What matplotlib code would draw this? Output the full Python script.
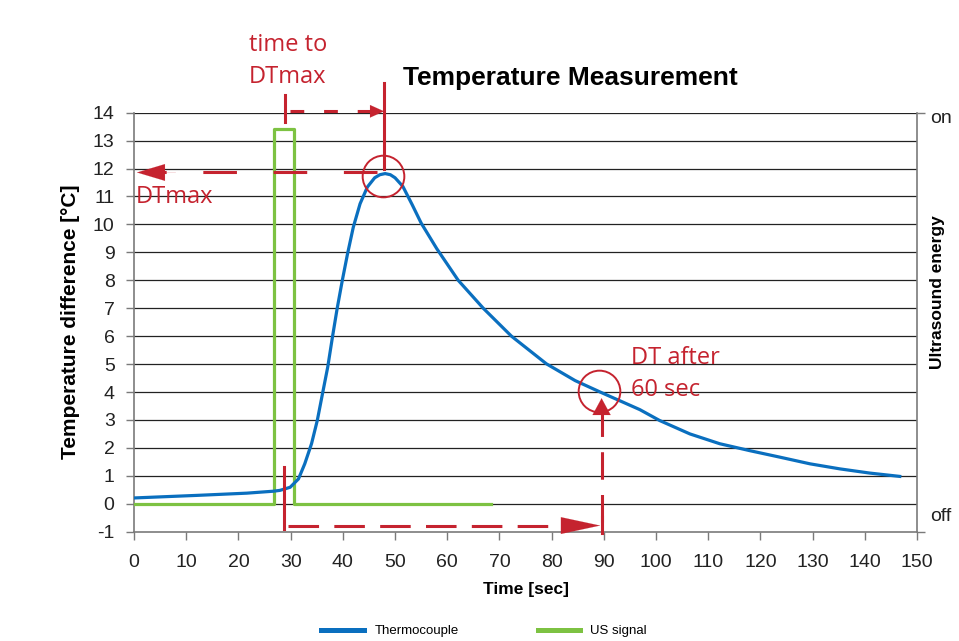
import numpy as np
import matplotlib.pyplot as plt

# thermocouple reading (temperature difference, degC) vs time (s)
tc_time = [0.2, 12.0, 21.6, 26.7, 27.95, 29.9, 31.5, 32.7, 34.0, 35.1, 36.1,
           37.1, 38.0, 38.9, 39.9, 40.9, 42.0, 43.3, 44.7, 46.1, 47.1, 48.1,
           49.1, 50.0, 51.5, 53.3, 55.0, 58.0, 62.1, 66.9, 72.3, 79.0, 84.5,
           89.3, 96.9, 100.7, 106.5, 112.2, 118.0, 123.7, 129.5, 135.2, 140.9,
           146.7]
tc_temp = [0.21, 0.30, 0.38, 0.45, 0.48, 0.59, 0.89, 1.43, 2.15, 2.98, 3.94,
           4.89, 5.96, 6.98, 8.0, 8.95, 9.9, 10.74, 11.34, 11.67, 11.78, 11.82,
           11.78, 11.67, 11.36, 10.7, 10.05, 9.13, 8.0, 7.0, 6.0, 5.01, 4.41,
           4.0, 3.37, 2.98, 2.5, 2.15, 1.9, 1.67, 1.43, 1.25, 1.1, 0.98]

# ultrasound on/off signal
us_time = [0, 26.8, 26.8, 30.7, 30.7, 68.3]
us_level = [0, 0, 13.4, 13.4, 0, 0]

x_ticks = list(range(0, 151, 10))
y_ticks = list(range(-1, 15))

BLUE = '#0A6FBF'
GREEN = '#7DC242'
RED = '#C5232F'
GRAY = '#7a7a7a'

plt.rcParams['font.family'] = ['Liberation Sans', 'DejaVu Sans']
plt.rcParams['axes.unicode_minus'] = False

fig = plt.figure(figsize=(9.59, 6.41), dpi=100)
ax = fig.add_axes([0.1398, 0.1705, 0.9562 - 0.1398, 0.8242 - 0.1705])

ax.set_xlim(0, 150)
ax.set_ylim(-1, 14)
ax.set_xticks(x_ticks)
ax.set_yticks(y_ticks)
ax.tick_params(axis='both', labelsize=14, colors='#222222', direction='out',
               length=6, width=1, color=GRAY)
ax.tick_params(axis='x', pad=10)
ax.tick_params(axis='y', pad=8)

for yv in y_ticks[1:]:
    ax.axhline(yv, color='#222222', lw=0.9, zorder=1)

for side in ('left', 'bottom', 'right'):
    ax.spines[side].set_color(GRAY)
    ax.spines[side].set_linewidth(1.2)
ax.spines['top'].set_visible(False)

l_tc, = ax.plot(tc_time, tc_temp, color=BLUE, lw=2.3, zorder=4,
                label='Thermocouple', solid_joinstyle='round')
l_us, = ax.plot(us_time, us_level, color=GREEN, lw=2.3, zorder=3,
                label='US signal')

# right-hand axis: ultrasound energy on/off
ax2 = ax.twinx()
ax2.set_ylim(-1, 14)
ax2.set_yticks([-1, 14])
ax2.set_yticklabels([])
ax2.tick_params(axis='y', direction='out', length=6, width=1, color=GRAY)
for s in ax2.spines.values():
    s.set_visible(False)
ax2.text(1.017, 13.8, 'on', transform=ax2.get_yaxis_transform(), fontsize=14,
         va='center', ha='left', color='#222222')
ax2.text(1.017, -0.45, 'off', transform=ax2.get_yaxis_transform(), fontsize=14,
         va='center', ha='left', color='#222222')
fig.text(0.978, 0.545, 'Ultrasound energy', rotation=90, fontsize=12.5,
         fontweight='bold', ha='center', va='center')

ax.set_xlabel('Time [sec]', fontsize=12.5, fontweight='bold', labelpad=8)
ax.set_ylabel('Temperature difference [°C]', fontsize=15, fontweight='bold',
              labelpad=9)
fig.text(0.595, 0.868, 'Temperature Measurement', fontsize=19,
         fontweight='bold', ha='center', va='baseline')

# red annotations
def dashed(xs, ys, dash):
    ax.plot(xs, ys, color=RED, lw=2.2, dashes=dash, clip_on=False, zorder=6)

def solid(xs, ys):
    ax.plot(xs, ys, color=RED, lw=2.2, clip_on=False, zorder=6)

def head(tip, base, length, width):
    ax.annotate('', xy=tip, xytext=base, annotation_clip=False, zorder=7,
                arrowprops=dict(arrowstyle=f'-|>,head_length={length},head_width={width}',
                                color=RED, lw=0.1, mutation_scale=1,
                                shrinkA=0, shrinkB=0))

# time to DTmax
solid([29.0, 29.0], [13.65, 14.62])
dashed([29.9, 47.6], [14.05, 14.05], (4.5, 6.5))
head((47.9, 14.05), (45.0, 14.05), 10, 4.5)
solid([47.9, 47.9], [11.98, 15.07])

# DTmax
dashed([46.5, 2.0], [11.86, 11.86], (11, 12))
head((0.55, 11.86), (8.0, 11.86), 20, 6)
ax.plot([47.6], [11.74], 'o', ms=30, mfc='none', mec=RED, mew=1.4, zorder=6)

# DT after 60 sec
solid([28.7, 28.7], [-0.91, 1.31])
dashed([29.5, 85.0], [-0.78, -0.78], (10, 5))
head((89.3, -0.78), (82.0, -0.78), 28, 6)
solid([89.6, 89.6], [-1.03, -0.49])
dashed([89.57, 89.57], [-0.67, 3.2], (9, 5))
head((89.57, 3.78), (89.57, 3.0), 12, 6.5)
ax.plot([89.1], [4.03], 'o', ms=30, mfc='none', mec=RED, mew=1.4, zorder=6)

red_font = dict(family=['Open Sans', 'DejaVu Sans'], fontsize=17, color=RED,
                linespacing=1.42)
fig.text(249 / 959, 1 - 83 / 641, 'time to\nDTmax', ha='left', va='baseline',
         **red_font)
fig.text(136 / 959, 1 - 203 / 641, 'DTmax', ha='left', va='baseline', **red_font)
fig.text(631 / 959, 1 - 396 / 641, 'DT after\n60 sec', ha='left', va='baseline',
         **red_font)

fig.legend(handles=[l_tc, l_us], loc='center', bbox_to_anchor=(0.505, 1 - 631 / 641),
           ncol=2, frameon=False, fontsize=9.5, handlelength=3.2,
           handletextpad=0.8, columnspacing=6.0)
for h in fig.legends[0].get_lines():
    h.set_linewidth(3.6)

fig.savefig('out.png', dpi=100)
